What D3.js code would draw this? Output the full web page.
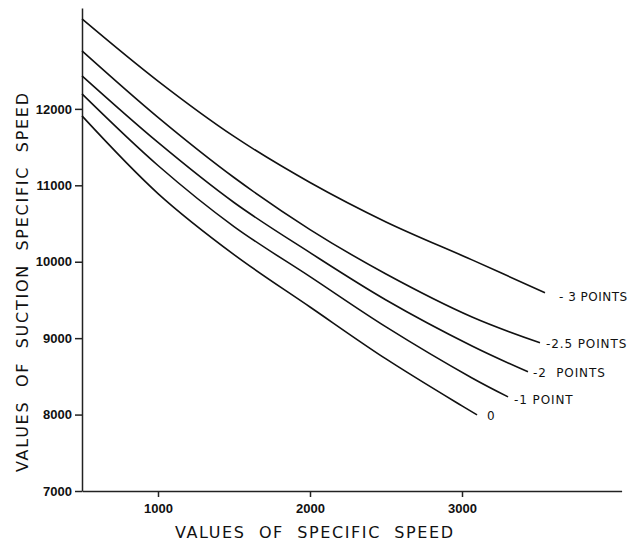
<!DOCTYPE html>
<html>
<head>
<meta charset="utf-8">
<script src="https://cdn.jsdelivr.net/npm/d3@7/dist/d3.min.js"></script>
<style>
  body { margin: 0; background: #fff; }
  svg { display: block; font-family: "DejaVu Sans", sans-serif; }
  .axis path, .axis line { stroke: #222; stroke-width: 1.5; }
  .axis text { font-size: 13px; font-weight: bold; fill: #111; }
  .curve { fill: none; stroke: #111; stroke-width: 1.6; }
  .lbl { font-size: 12px; letter-spacing: 0.9px; fill: #111; white-space: pre; }
  .title { font-size: 16px; fill: #111; white-space: pre; }
</style>
</head>
<body>
<svg width="629" height="543"></svg>
<script>
// values (specific speed -> suction specific speed)
var xTicks = [1000, 2000, 3000];
var yTicks = [7000, 8000, 9000, 10000, 11000, 12000];

var seriesNames = ["3", "2.5", "2", "1", "0"];
var seriesLabels = ["- 3 POINTS", "-2.5 POINTS", "-2  POINTS", "-1 POINT", "0"];

var x3  = [500, 1000, 1500, 2000, 2500, 3066, 3546];
var y3  = [13178, 12364, 11640, 11037, 10521, 10024, 9595];
var x25 = [500, 1000, 1500, 2000, 2500, 3066, 3513];
var y25 = [12759, 11889, 11102, 10421, 9840, 9277, 8940];
var x2  = [500, 1000, 1500, 2000, 2500, 3066, 3434];
var y2  = [12432, 11561, 10775, 10119, 9500, 8898, 8560];
var x1  = [500, 1000, 1500, 2000, 2500, 3066, 3303];
var y1  = [12196, 11259, 10460, 9805, 9147, 8479, 8232];
var x0  = [500, 1000, 1500, 2000, 2500, 3000, 3099];
var y0  = [11908, 10892, 10093, 9408, 8728, 8113, 7996];

// label offsets from curve end (pixels)
var labelDx = [14, 6, 5, 6, 10];
var labelDy = [8, 5, 5, 7, 5];
var labelSpacing = [0.5, 0.9, 0.9, 0.9, 0];

var svg = d3.select("svg");

var x = d3.scaleLinear().domain([500, 4050]).range([82, 621.6]);
var y = d3.scaleLinear().domain([7000, 13320]).range([491, 8]);

var xs = [x3, x25, x2, x1, x0];
var ys = [y3, y25, y2, y1, y0];
var series = seriesNames.map(function(n, i) {
  return xs[i].map(function(v, j) { return [v, ys[i][j]]; });
});

svg.append("g")
    .attr("class", "axis")
    .attr("transform", "translate(0,491)")
    .call(d3.axisBottom(x).tickValues(xTicks).tickSize(6).tickSizeOuter(0).tickPadding(7))
    .selectAll("text").text(function(d) { return d; });

svg.append("g")
    .attr("class", "axis")
    .attr("transform", "translate(82,0)")
    .call(d3.axisLeft(y).tickValues(yTicks).tickSize(7).tickSizeOuter(0).tickPadding(3))
    .selectAll("text").text(function(d) { return d; });

var line = d3.line()
    .x(function(d) { return x(d[0]); })
    .y(function(d) { return y(d[1]); })
    .curve(d3.curveCatmullRom.alpha(0.5));

svg.selectAll(".curve")
    .data(series)
  .enter().append("path")
    .attr("class", "curve")
    .attr("d", line);

svg.selectAll(".lbl")
    .data(series)
  .enter().append("text")
    .attr("class", "lbl")
    .attr("x", function(d, i) { return x(d[d.length - 1][0]) + labelDx[i]; })
    .attr("y", function(d, i) { return y(d[d.length - 1][1]) + labelDy[i]; })
    .style("letter-spacing", function(d, i) { return labelSpacing[i] + "px"; })
    .text(function(d, i) { return seriesLabels[i]; });

svg.append("text")
    .attr("class", "title")
    .attr("x", 175)
    .attr("y", 538)
    .attr("textLength", 278)
    .attr("lengthAdjust", "spacing")
    .text("VALUES  OF  SPECIFIC  SPEED");

svg.append("text")
    .attr("class", "title")
    .attr("transform", "translate(28,472) rotate(-90)")
    .attr("textLength", 379)
    .attr("lengthAdjust", "spacing")
    .text("VALUES  OF  SUCTION  SPECIFIC  SPEED");
</script>
</body>
</html>
